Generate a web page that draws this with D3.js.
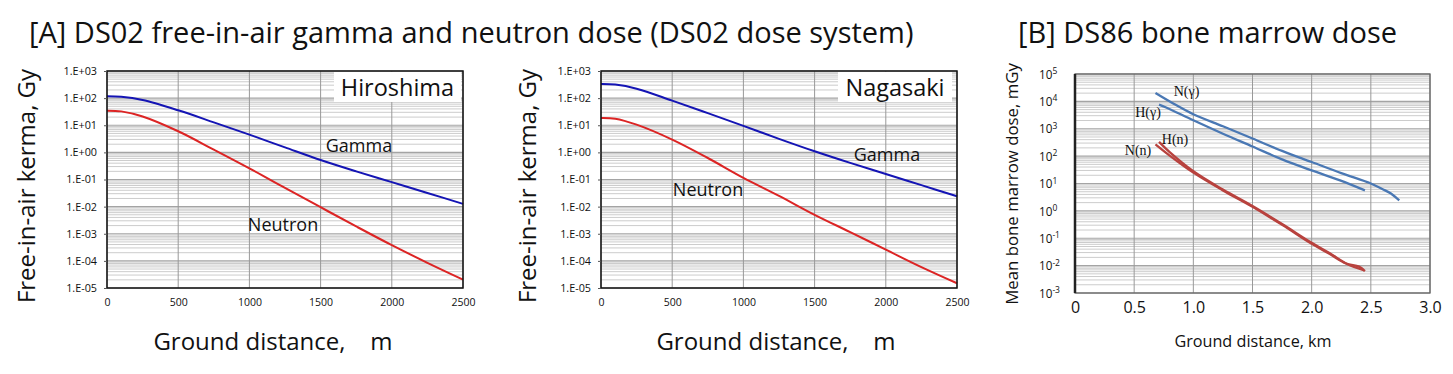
<!DOCTYPE html>
<html>
<head>
<meta charset="utf-8">
<script src="https://cdn.jsdelivr.net/npm/d3@7"></script>
<style>
  body { margin: 0; background: #fff; }
  svg { display: block; }
  text { font-family: "Open Sans", Lato, sans-serif; fill: #111; }
</style>
</head>
<body>
<svg id="chart" width="1453" height="374"></svg>
<script>
// ---- data ----
const distA = [0, 100, 250, 500, 750, 1000, 1250, 1500, 1750, 2000, 2250, 2500];
const hiroGamma = [117, 112, 85, 35.5, 12.8, 4.5, 1.53, 0.525, 0.2, 0.08, 0.032, 0.0126];
const hiroNeutron = [34.5, 32.5, 21, 6.0, 1.26, 0.257, 0.049, 0.0095, 0.00186, 3.8e-4, 8.5e-5, 2.04e-5];
const nagaGamma = [331, 316, 223, 81, 28, 9.5, 3.16, 1.1, 0.41, 0.16, 0.062, 0.024];
const nagaNeutron = [18.6, 17.5, 10.5, 2.95, 0.62, 0.115, 0.025, 0.005, 0.00115, 2.6e-4, 5.9e-5, 1.5e-5];

const xTicksA = [0, 500, 1000, 1500, 2000, 2500];
const yTicksA = [1e3, 1e2, 1e1, 1e0, 1e-1, 1e-2, 1e-3, 1e-4, 1e-5];
const yTickLabelsA = ["1.E+03", "1.E+02", "1.E+01", "1.E+00", "1.E-01", "1.E-02", "1.E-03", "1.E-04", "1.E-05"];

const nGammaKm = [0.68, 0.85, 1.0, 1.25, 1.5, 1.75, 2.0, 2.25, 2.5, 2.6, 2.67, 2.74];
const nGammaDose = [20300, 7500, 3400, 1230, 440, 155, 61, 24, 10, 6.2, 4.3, 2.4];
const hGammaKm = [0.71, 0.77, 1.0, 1.25, 1.5, 1.75, 2.0, 2.24, 2.45];
const hGammaDose = [7600, 6000, 2040, 660, 225, 76, 30, 13, 5.6];
const nNeutronKm = [0.68, 0.8, 1.0, 1.25, 1.5, 1.75, 2.0, 2.15, 2.29, 2.40, 2.45];
const nNeutronDose = [270, 105, 25, 5.6, 1.4, 0.31, 0.063, 0.027, 0.012, 0.0092, 0.0063];
const hNeutronKm = [0.71, 0.8, 1.0, 1.25, 1.5, 1.75, 2.0, 2.15, 2.3, 2.44];
const hNeutronDose = [330, 140, 28, 6.0, 1.5, 0.33, 0.068, 0.029, 0.0115, 0.0068];

const xTicksB = [0, 0.5, 1.0, 1.5, 2.0, 2.5, 3.0];
const xTickLabelsB = ["0", "0.5", "1.0", "1.5", "2.0", "2.5", "3.0"];
const yExpB = [5, 4, 3, 2, 1, 0, -1, -2, -3];

const svg = d3.select("#chart");

// log-style grid like an Excel chart: minor lines 2..9 per decade + decade lines
function logGrid(g, x, y, loExp, hiExp, xTicks) {
  const [x0, x1] = x.range();
  for (let e = loExp; e < hiExp; e++) {
    for (let k = 2; k <= 9; k++) {
      g.append("line")
        .attr("x1", x0).attr("x2", x1)
        .attr("y1", y(k * Math.pow(10, e))).attr("y2", y(k * Math.pow(10, e)))
        .attr("stroke", "#cccccc").attr("stroke-width", 1);
    }
  }
  for (let e = loExp; e <= hiExp; e++) {
    g.append("line")
      .attr("x1", x0).attr("x2", x1)
      .attr("y1", y(Math.pow(10, e))).attr("y2", y(Math.pow(10, e)))
      .attr("stroke", "#a4a4a4").attr("stroke-width", 1.2);
  }
  xTicks.forEach(t => {
    g.append("line")
      .attr("x1", x(t)).attr("x2", x(t))
      .attr("y1", y.range()[0]).attr("y2", y.range()[1])
      .attr("stroke", "#999").attr("stroke-width", 1);
  });
}

function panelA(opts) {
  const x = d3.scaleLinear().domain([0, 2500]).range([opts.left, opts.right]);
  const y = d3.scaleLog().domain([1e-5, 1e3]).range([288, 71]);
  const g = svg.append("g");

  logGrid(g, x, y, -5, 3, xTicksA);

  // place-name box
  g.append("rect")
    .attr("x", opts.box[0]).attr("y", 72)
    .attr("width", opts.box[1]).attr("height", 30)
    .attr("fill", "#fff");
  g.append("text")
    .attr("x", opts.box[0] + opts.box[1] / 2).attr("y", 95.5)
    .attr("text-anchor", "middle")
    .attr("font-size", 23.5)
    .text(opts.name);

  const line = d3.line()
    .x(d => x(d[0]))
    .y(d => y(d[1]))
    .curve(d3.curveCatmullRom.alpha(0.5));

  g.append("path")
    .datum(d3.zip(distA, opts.gamma))
    .attr("fill", "none").attr("stroke", "#1414b4").attr("stroke-width", 2)
    .attr("d", line);
  g.append("path")
    .datum(d3.zip(distA, opts.neutron))
    .attr("fill", "none").attr("stroke", "#dc2424").attr("stroke-width", 2)
    .attr("d", line);

  g.append("rect")
    .attr("x", opts.left).attr("y", 71)
    .attr("width", opts.right - opts.left).attr("height", 288 - 71)
    .attr("fill", "none").attr("stroke", "#111").attr("stroke-width", 1.5);

  const yAxis = d3.axisLeft(y)
    .tickValues(yTicksA)
    .tickSize(3).tickPadding(7)
    .tickFormat((d, i) => yTickLabelsA[i]);
  const ya = g.append("g")
    .attr("transform", "translate(" + opts.left + ",0)")
    .call(yAxis);
  ya.select(".domain").remove();
  ya.selectAll("line").attr("stroke", "#555");
  ya.selectAll("text").attr("font-size", 10.8).attr("fill", "#333");

  const xAxis = d3.axisBottom(x).tickValues(xTicksA).tickSize(0).tickPadding(11)
    .tickFormat(d3.format("d"));
  const xa = g.append("g")
    .attr("transform", "translate(0,288)")
    .call(xAxis);
  xa.select(".domain").remove();
  xa.selectAll("text").attr("font-size", 10.5).attr("fill", "#333");

  g.append("text")
    .attr("transform", "translate(" + opts.yTitleX + ",186) rotate(-90)")
    .attr("text-anchor", "middle")
    .attr("font-size", 24)
    .text("Free-in-air kerma, Gy");
  g.append("text")
    .attr("x", opts.xTitleX).attr("y", 350)
    .attr("text-anchor", "middle")
    .attr("font-size", 24)
    .style("white-space", "pre")
    .text("Ground distance,    m");

  g.append("text").attr("x", opts.gLab[0]).attr("y", opts.gLab[1])
    .attr("text-anchor", "middle").attr("font-size", 18).text("Gamma");
  g.append("text").attr("x", opts.nLab[0]).attr("y", opts.nLab[1])
    .attr("text-anchor", "middle").attr("font-size", 18).text("Neutron");
}

panelA({
  left: 107, right: 463, name: "Hiroshima", box: [334, 127],
  gamma: hiroGamma, neutron: hiroNeutron, yTitleX: 35, xTitleX: 273,
  gLab: [359, 152], nLab: [283, 231]
});
panelA({
  left: 601, right: 957, name: "Nagasaki", box: [838, 114],
  gamma: nagaGamma, neutron: nagaNeutron, yTitleX: 536, xTitleX: 776,
  gLab: [887, 161], nLab: [708, 196]
});

// ---- panel B ----
(function () {
  const left = 1075, right = 1430, top = 74, bottom = 293;
  const x = d3.scaleLinear().domain([0, 3]).range([left, right]);
  const y = d3.scaleLog().domain([1e-3, 1e5]).range([bottom, top]);
  const g = svg.append("g");

  logGrid(g, x, y, -3, 5, xTicksB.slice(1));

  g.append("rect")
    .attr("x", left).attr("y", top)
    .attr("width", right - left).attr("height", bottom - top)
    .attr("fill", "none").attr("stroke", "#666").attr("stroke-width", 1.3);
  g.append("line")
    .attr("x1", left).attr("x2", left).attr("y1", top).attr("y2", bottom)
    .attr("stroke", "#222").attr("stroke-width", 2.5);

  const line = d3.line()
    .x(d => x(d[0]))
    .y(d => y(d[1]))
    .curve(d3.curveCatmullRom.alpha(0.5));

  const series = [
    [nGammaKm, nGammaDose, "#4a78b4"],
    [hGammaKm, hGammaDose, "#4a78b4"],
    [nNeutronKm, nNeutronDose, "#b8423e"],
    [hNeutronKm, hNeutronDose, "#b8423e"]
  ];
  series.forEach(s => {
    g.append("path")
      .datum(d3.zip(s[0], s[1]))
      .attr("fill", "none").attr("stroke", s[2]).attr("stroke-width", 2.3)
      .attr("d", line);
  });

  const yAxis = d3.axisLeft(y)
    .tickValues(yExpB.map(e => Math.pow(10, e)))
    .tickSize(0)
    .tickFormat("");
  const ya = g.append("g").attr("transform", "translate(" + left + ",0)").call(yAxis);
  ya.select(".domain").remove();
  ya.selectAll(".tick").each(function (d, i) {
    const t = d3.select(this).append("text")
      .attr("x", -36).attr("dy", "0.36em")
      .attr("text-anchor", "start")
      .attr("font-size", 11.7).attr("fill", "#222");
    t.append("tspan").text("10");
    t.append("tspan").attr("dy", "-0.55em").attr("font-size", 8.5).text(yExpB[i]);
  });

  const xAxis = d3.axisBottom(x).tickValues(xTicksB).tickSize(0).tickPadding(9)
    .tickFormat((d, i) => xTickLabelsB[i]);
  const xa = g.append("g").attr("transform", "translate(0," + bottom + ")").call(xAxis);
  xa.select(".domain").remove();
  xa.selectAll("text").attr("font-size", 16).attr("fill", "#222");

  g.append("text")
    .attr("transform", "translate(1018,184) rotate(-90)")
    .attr("text-anchor", "middle").attr("font-size", 16.8)
    .text("Mean bone marrow dose, mGy");
  g.append("text")
    .attr("x", 1253).attr("y", 347)
    .attr("text-anchor", "middle").attr("font-size", 16.2)
    .text("Ground distance, km");

  const labs = [["N(\u03b3)", 1186.5, 96], ["H(\u03b3)", 1148, 117], ["H(n)", 1175, 144], ["N(n)", 1138, 155]];
  labs.forEach(l => {
    g.append("text").attr("x", l[1]).attr("y", l[2])
      .attr("text-anchor", "middle")
      .style("font-family", "'Liberation Serif', 'DejaVu Serif', serif")
      .attr("font-size", 14).text(l[0]);
  });
})();

// ---- titles ----
svg.append("text")
  .attr("x", 29).attr("y", 43)
  .attr("font-size", 29)
  .text("[A] DS02 free-in-air gamma and neutron dose (DS02 dose system)");
svg.append("text")
  .attr("x", 1018).attr("y", 43)
  .attr("font-size", 29)
  .text("[B] DS86 bone marrow dose");
</script>
</body>
</html>
